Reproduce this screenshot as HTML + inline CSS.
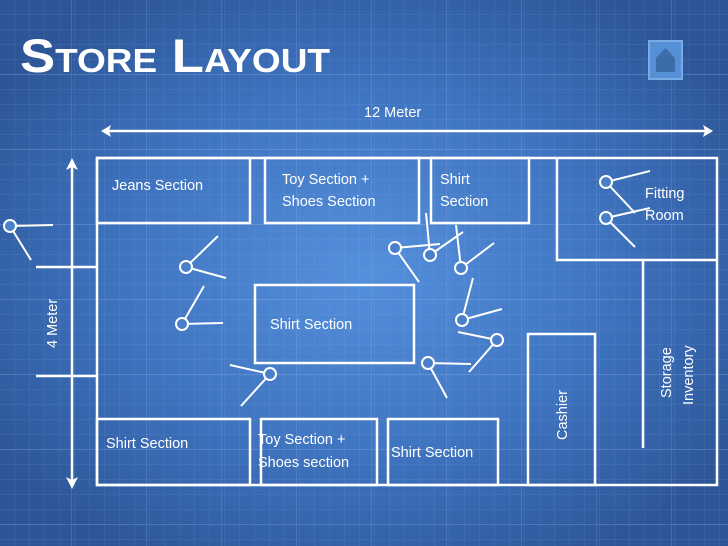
<!DOCTYPE html>
<html><head><meta charset="utf-8"><style>
html,body{margin:0;padding:0;width:728px;height:546px;overflow:hidden}
body{background:radial-gradient(ellipse 60% 60% at 50% 50%,#5590dc 0%,#3f74c0 55%,#2d5698 100%)}
svg{position:absolute;left:0;top:0}
text{font-family:"Liberation Sans","DejaVu Sans",sans-serif;fill:#fff}
</style></head><body>
<svg width="728" height="546" viewBox="0 0 728 546">
<defs>
<pattern id="g" width="15" height="15" patternUnits="userSpaceOnUse">
<path d="M15 0V15M0 15H15" stroke="#8fb4ea" stroke-opacity="0.22" stroke-width="1" fill="none"/>
</pattern>
<pattern id="G" width="75" height="75" patternUnits="userSpaceOnUse" x="-3" y="0">
<path d="M75 0V75M0 75H75" stroke="#a9c6f0" stroke-opacity="0.3" stroke-width="1.2" fill="none"/>
</pattern>
</defs>
<rect width="728" height="546" fill="url(#g)"/>
<rect width="728" height="546" fill="url(#G)"/>
<text x="20" y="72" font-size="47" font-weight="bold" textLength="310" lengthAdjust="spacingAndGlyphs" style="font-variant:small-caps">Store Layout</text>
<rect x="649" y="41" width="33" height="38" fill="#5590d6" stroke="#7aaae4" stroke-width="2"/>
<path d="M656 58L665.5 48L675 58V72H656Z" fill="#3d6cab"/>
<g stroke="#fff" stroke-width="2.5" fill="none">
<line x1="106" y1="131" x2="708" y2="131"/>
<line x1="72" y1="166" x2="72" y2="482"/>
<line x1="36" y1="267" x2="97" y2="267"/>
<line x1="36" y1="376" x2="97" y2="376"/>
<rect x="97" y="158" width="620" height="327"/>
<rect x="97" y="158" width="153" height="65"/>
<rect x="265" y="158" width="154" height="65"/>
<rect x="431" y="158" width="98" height="65"/>
<path d="M557 158V260H717"/>
<line x1="643" y1="260" x2="643" y2="448"/>
<rect x="255" y="285" width="159" height="78"/>
<rect x="528" y="334" width="67" height="151"/>
<rect x="97" y="419" width="153" height="66"/>
<rect x="261" y="419" width="116" height="66"/>
<rect x="388" y="419" width="110" height="66"/>
</g>
<g fill="#fff">
<path d="M101 131L111 125L109 131L111 137Z"/>
<path d="M713 131L703 125L705 131L703 137Z"/>
<path d="M72 158L66 170L72 167L78 170Z"/>
<path d="M72 489L66 477L72 480L78 477Z"/>
</g>
<g stroke="#fff" stroke-width="2" fill="#4a80c8">
<path d="M10 226L53 225M10 226L31 260"/>
<path d="M186 267L218 236M186 267L226 278"/>
<path d="M182 324L204 286M182 324L223 323"/>
<path d="M270 374L230 365M270 374L241 406"/>
<path d="M395 248L440 244M395 248L419 282M426 213L430 255M430 255L463 232M456 225L461 268M461 268L494 243"/>
<path d="M462 320L473 278M462 320L502 309"/>
<path d="M497 340L458 332M497 340L469 372"/>
<path d="M428 363L471 364M428 363L447 398"/>
<path d="M606 182L650 171M606 182L635 213M606 218L650 208M606 218L635 247"/>
<circle cx="10" cy="226" r="6"/><circle cx="186" cy="267" r="6"/><circle cx="182" cy="324" r="6"/>
<circle cx="270" cy="374" r="6"/><circle cx="395" cy="248" r="6"/><circle cx="430" cy="255" r="6"/>
<circle cx="461" cy="268" r="6"/><circle cx="462" cy="320" r="6"/><circle cx="497" cy="340" r="6"/>
<circle cx="428" cy="363" r="6"/><circle cx="606" cy="182" r="6"/><circle cx="606" cy="218" r="6"/>
</g>
<g font-size="14.5">
<text x="364" y="117">12 Meter</text>
<text x="112" y="190">Jeans Section</text>
<text x="282" y="184">Toy Section +</text>
<text x="282" y="206">Shoes Section</text>
<text x="440" y="184">Shirt</text>
<text x="440" y="206">Section</text>
<text x="645" y="198">Fitting</text>
<text x="645" y="220">Room</text>
<text x="270" y="329">Shirt Section</text>
<text x="106" y="448">Shirt Section</text>
<text x="258" y="444">Toy Section +</text>
<text x="258" y="467">Shoes section</text>
<text x="391" y="457">Shirt Section</text>
<text transform="translate(57,348) rotate(-90)">4 Meter</text>
<text transform="translate(567,440) rotate(-90)">Cashier</text>
<text transform="translate(671,398) rotate(-90)">Storage</text>
<text transform="translate(693,405) rotate(-90)">Inventory</text>
</g>
</svg>
</body></html>
